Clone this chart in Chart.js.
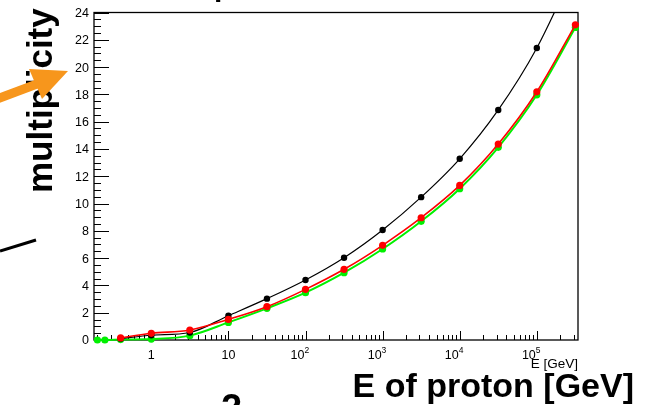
<!DOCTYPE html>
<html lang="en">
<head>
    <meta charset="UTF-8">
    <title>multiplicity vs E</title>
    <script src="https://cdn.jsdelivr.net/npm/chart.js@4/dist/chart.umd.min.js"></script>
    <style>
        body { margin: 0; background: #fff; }
        canvas { display: block; }
    </style>
</head>
<body>
<canvas id="chart" width="650" height="405"></canvas>
<script>
    // proton energy [GeV] for every point
    const energies = [0.2, 0.25, 0.4, 1, 3.162, 10, 31.62, 100, 316.2, 1000, 3162, 10000, 31620, 100000, 316200]
    // multiplicity per model
    const blackVals = [null, null, 0.1, 0.35, 0.55, 1.78, 3.03, 4.40, 6.03, 8.06, 10.47, 13.28, 16.86, 21.40, 27.3]
    const redVals   = [null, null, 0.15, 0.49, 0.73, 1.51, 2.44, 3.71, 5.18, 6.94, 8.96, 11.33, 14.36, 18.19, 23.1]
    const greenVals = [0, 0, 0.03, 0.07, 0.32, 1.29, 2.32, 3.47, 4.93, 6.67, 8.70, 11.09, 14.12, 17.97, 22.9]

    // axis ticks
    const yTicks = [0, 2, 4, 6, 8, 10, 12, 14, 16, 18, 20, 22, 24]
    const xMajor = [1, 10, 100, 1000, 10000, 100000]
    const xBase = ['1', '10', '10', '10', '10', '10']
    const xExp = ['', '', '2', '3', '4', '5']

    const FONT = '"Liberation Sans", Arial, Helvetica, sans-serif'

    function pts(vals){
        return energies.map((e, i) => ({ x: e, y: vals[i] }))
    }

    // frame, tick marks and tick labels, ROOT style
    const frame = {
        id: 'frame',
        beforeDatasetsDraw(chart){
            const { ctx, chartArea: a, scales } = chart
            const xs = scales.x, ys = scales.y
            ctx.save()
            ctx.strokeStyle = '#000'
            ctx.lineWidth = 1
            ctx.beginPath()
            // y ticks, inside the frame
            for (let v = 0; v <= 24.001; v += 0.5){
                const y = Math.round(ys.getPixelForValue(v)) + 0.5
                const len = (Math.abs(v / 2 - Math.round(v / 2)) < 1e-6) ? 15 : 7
                ctx.moveTo(a.left, y)
                ctx.lineTo(a.left + len, y)
            }
            // x ticks, log decades
            for (let k = -1; k <= 5; k++){
                for (let m = 1; m <= 9; m++){
                    const v = m * Math.pow(10, k)
                    if (v < xs.min || v > xs.max) continue
                    const x = Math.round(xs.getPixelForValue(v)) + 0.5
                    const len = m === 1 ? 9 : 5
                    ctx.moveTo(x, a.bottom)
                    ctx.lineTo(x, a.bottom - len)
                }
            }
            ctx.stroke()
            ctx.lineWidth = 1.3
            ctx.strokeRect(a.left, a.top, a.right - a.left, a.bottom - a.top)

            ctx.fillStyle = '#000'
            ctx.font = '12.5px ' + FONT
            ctx.textAlign = 'right'
            ctx.textBaseline = 'middle'
            yTicks.forEach(v => {
                ctx.fillText(String(v), a.left - 5, ys.getPixelForValue(v) + 1)
            })
            ctx.textBaseline = 'alphabetic'
            xMajor.forEach((v, i) => {
                const x = xs.getPixelForValue(v)
                ctx.font = '12.5px ' + FONT
                if (xExp[i] === ''){
                    ctx.textAlign = 'center'
                    ctx.fillText(xBase[i], x, 359)
                } else {
                    ctx.textAlign = 'right'
                    ctx.fillText(xBase[i], x - 1, 358.5)
                    ctx.textAlign = 'left'
                    ctx.font = '8.5px ' + FONT
                    ctx.fillText(xExp[i], x - 1, 352.5)
                }
            })
            ctx.restore()
        }
    }

    // titles and drawing marks around the plot
    const extras = {
        id: 'extras',
        afterDraw(chart){
            const ctx = chart.ctx
            ctx.save()
            ctx.fillStyle = '#000'
            ctx.font = '13.5px ' + FONT
            ctx.textAlign = 'right'
            ctx.fillText('E [GeV]', 578, 368)

            ctx.font = 'bold 34px ' + FONT
            ctx.fillText('E of proton [GeV]', 634, 397)

            ctx.textAlign = 'left'
            ctx.fillText('rs', 119, 423)
            ctx.font = 'bold 38px ' + FONT
            ctx.fillText('2', 221, 421)
            ctx.font = 'bold 30px ' + FONT
            ctx.fillText('p', 214, -4)

            ctx.save()
            ctx.translate(52, 193)
            ctx.rotate(-Math.PI / 2)
            ctx.font = 'bold 35px ' + FONT
            ctx.fillText('multiplicity', 0, 0)
            ctx.restore()

            // black stroke on the left
            ctx.strokeStyle = '#000'
            ctx.lineWidth = 3
            ctx.beginPath()
            ctx.moveTo(0, 251)
            ctx.lineTo(36, 240)
            ctx.stroke()

            // orange arrow
            ctx.strokeStyle = '#f7961c'
            ctx.fillStyle = '#f7961c'
            ctx.lineWidth = 9
            ctx.beginPath()
            ctx.moveTo(-3, 99)
            ctx.lineTo(37, 84)
            ctx.stroke()
            ctx.beginPath()
            ctx.moveTo(29, 69)
            ctx.lineTo(68, 71)
            ctx.lineTo(42, 99)
            ctx.closePath()
            ctx.fill()
            ctx.restore()
        }
    }

    function series(label, vals, color, width, radius, order, clip){
        return {
            label: label,
            data: pts(vals),
            borderColor: color,
            backgroundColor: color,
            borderWidth: width,
            pointRadius: radius,
            pointBorderWidth: 0,
            cubicInterpolationMode: 'monotone',
            spanGaps: true,
            order: order,
            clip: clip
        }
    }

    new Chart(document.getElementById('chart').getContext('2d'), {
        type: 'line',
        data: {
            datasets: [
                series('black', blackVals, '#000000', 1.2, 3.2, 1, { top: 0, left: 10, right: 10, bottom: 10 }),
                series('red', redVals, '#ff0000', 1.6, 3.6, 0, false),
                series('green', greenVals, '#00f000', 2, 3.6, 2, false)
            ]
        },
        options: {
            responsive: false,
            animation: false,
            devicePixelRatio: 1,
            layout: { padding: { left: 94, right: 72, top: 12.5, bottom: 65 } },
            plugins: { legend: { display: false }, tooltip: { enabled: false } },
            scales: {
                x: { type: 'logarithmic', min: 0.1807, max: 342000, display: false },
                y: { min: 0, max: 24, display: false }
            }
        },
        plugins: [frame, extras]
    })
</script>
</body>
</html>
